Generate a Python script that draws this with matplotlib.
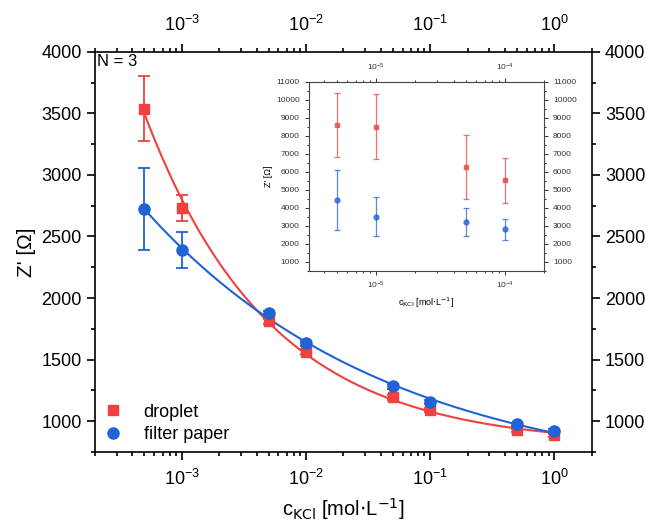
import matplotlib
matplotlib.use("Agg")
import matplotlib.pyplot as plt
import numpy as np
from matplotlib.ticker import LogLocator, NullFormatter, MultipleLocator

plt.rcParams["font.family"] = ["Liberation Sans", "DejaVu Sans"]

# main panel data
conc = [5e-4, 1e-3, 5e-3, 1e-2, 5e-2, 1e-1, 5e-1, 1.0]
droplet = [3537, 2734, 1813, 1564, 1193, 1089, 927, 886]
droplet_err = [265, 105, 20, 20, 20, 15, 12, 12]
paper = [2724, 2390, 1876, 1632, 1285, 1157, 976, 921]
paper_err = [330, 148, 20, 20, 20, 15, 12, 12]

# inset data
conc_in = [5e-6, 1e-5, 5e-5, 1e-4]
droplet_in = [8600, 8500, 6280, 5540]
droplet_in_err = [1800, 1800, 1780, 1250]
paper_in = [4440, 3510, 3210, 2800]
paper_in_err = [1680, 1070, 760, 600]

RED = "#f04040"
BLUE = "#1f63d6"


def fit_power(x, y):
    """least squares fit of y = a + b * x**(-p), grid over p"""
    x = np.asarray(x, float)
    y = np.asarray(y, float)
    best = None
    for p in np.linspace(0.05, 1.0, 400):
        A = np.column_stack([np.ones_like(x), x ** (-p)])
        coef, *_ = np.linalg.lstsq(A, y, rcond=None)
        res = np.sum((A @ coef - y) ** 2)
        if best is None or res < best[0]:
            best = (res, p, coef)
    _, p, (a, b) = best
    return lambda xx: a + b * xx ** (-p)


fig = plt.figure(figsize=(6.46, 5.28), dpi=100)
ax = fig.add_axes([0.147, 0.144, 0.769, 0.758])

xx = np.logspace(np.log10(5e-4), 0, 200)
ax.plot(xx, fit_power(conc, droplet)(xx), color=RED, lw=1.5)
ax.plot(xx, fit_power(conc, paper)(xx), color=BLUE, lw=1.5)
ax.errorbar(conc, droplet, yerr=droplet_err, fmt="s", color=RED, ms=7,
            capsize=4, elinewidth=1.3, capthick=1.3, label="droplet")
ax.errorbar(conc, paper, yerr=paper_err, fmt="o", color=BLUE, ms=8,
            capsize=4, elinewidth=1.3, capthick=1.3, label="filter paper")

ax.set_xscale("log")
ax.set_xlim(2e-4, 2.0)
ax.set_ylim(750, 4000)
ax.yaxis.set_major_locator(MultipleLocator(500))
ax.yaxis.set_minor_locator(MultipleLocator(250))
ax.xaxis.set_minor_locator(LogLocator(base=10, subs=np.arange(2, 10), numticks=20))
ax.xaxis.set_minor_formatter(NullFormatter())
ax.tick_params(which="both", direction="out", top=True, right=True,
               labeltop=True, labelright=True, labelsize=13, width=1.2)
ax.tick_params(which="major", length=6)
ax.tick_params(which="minor", length=3)
ax.tick_params(axis="x", which="major", pad=6)
for s in ax.spines.values():
    s.set_linewidth(1.2)

ax.set_xlabel(r"c$_{\mathrm{KCl}}$ [mol$\cdot$L$^{-1}$]", fontsize=14.5, labelpad=5)
ax.set_ylabel("Z' [Ω]", fontsize=15, labelpad=4)
ax.text(0.005, 0.995, "N = 3", transform=ax.transAxes, fontsize=12,
        ha="left", va="top")

h, l = ax.get_legend_handles_labels()
hh = [plt.Line2D([], [], ls="", marker="s", color=RED, ms=7),
      plt.Line2D([], [], ls="", marker="o", color=BLUE, ms=8)]
ax.legend(hh, l, loc="lower left", frameon=False, fontsize=13,
          handlelength=1.0, handletextpad=1.2, borderaxespad=0.1,
          labelspacing=0.3, bbox_to_anchor=(0.0, 0.0))

# inset
ins = fig.add_axes([0.478, 0.487, 0.364, 0.358])
ins.errorbar(conc_in, droplet_in, yerr=droplet_in_err, fmt="s", color=RED,
             alpha=0.75, ms=3.5, capsize=2.5, elinewidth=0.9, capthick=0.9)
ins.errorbar(conc_in, paper_in, yerr=paper_in_err, fmt="o", color=BLUE,
             alpha=0.75, ms=3.5, capsize=2.5, elinewidth=0.9, capthick=0.9)
ins.set_xscale("log")
ins.set_xlim(3.04e-6, 2.0e-4)
ins.set_ylim(500, 11000)
ins.yaxis.set_major_locator(MultipleLocator(1000))
ins.yaxis.set_minor_locator(MultipleLocator(500))
ins.xaxis.set_minor_locator(LogLocator(base=10, subs=np.arange(2, 10), numticks=20))
ins.xaxis.set_minor_formatter(NullFormatter())
ins.tick_params(which="both", direction="out", top=True, right=True,
                labeltop=True, labelright=True, labelsize=6, width=0.7,
                colors="#333333")
ins.tick_params(which="major", length=3)
ins.tick_params(which="minor", length=1.5)
for s in ins.spines.values():
    s.set_linewidth(0.8)
    s.set_color("#444444")
ins.set_xlabel(r"c$_{\mathrm{KCl}}$ [mol$\cdot$L$^{-1}$]", fontsize=6.5, labelpad=3)
ins.set_ylabel("Z' [Ω]", fontsize=6.5, labelpad=2)

fig.savefig("out.png", dpi=100)
